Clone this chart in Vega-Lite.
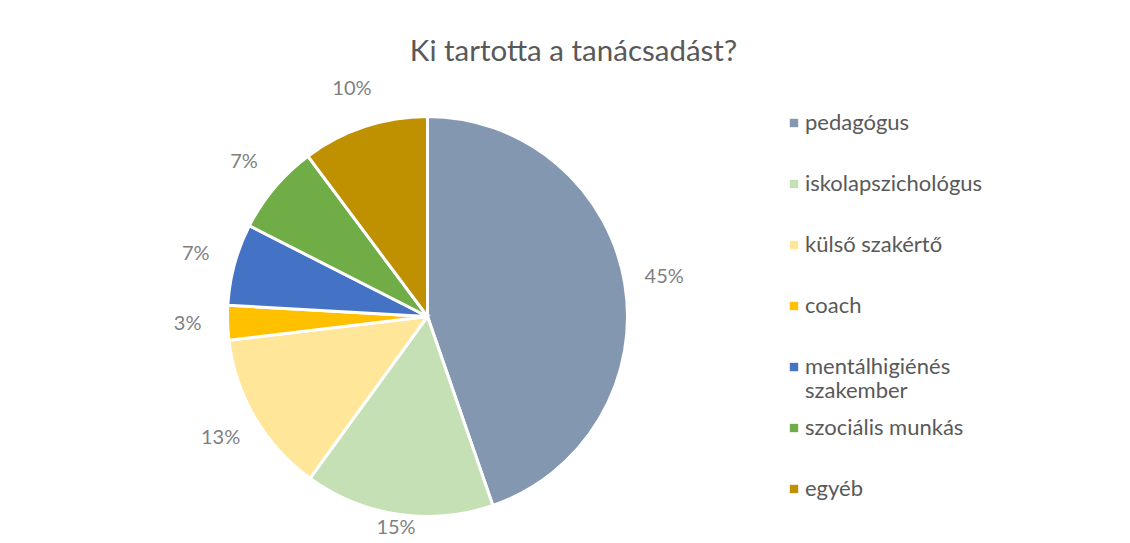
{
  "$schema": "https://vega.github.io/schema/vega-lite/v6.json",
  "autosize": {"type": "none"},
  "padding": {"left": 3, "top": 12, "right": 278, "bottom": 0},
  "width": 849,
  "height": 609,
  "background": "white",
  "title": {
    "text": "Ki tartotta a tanácsadást?",
    "anchor": "middle",
    "frame": "group",
    "offset": -55,
    "dx": 146,
    "fontSize": 29.5,
    "font": "Lato",
    "fontWeight": "normal",
    "color": "#595959"
  },
  "data": {
    "values": [
      {"idx": 1, "category": "pedagógus", "share": 0.447},
      {"idx": 2, "category": "iskolapszichológus", "share": 0.153},
      {"idx": 3, "category": "külső szakértő", "share": 0.131},
      {"idx": 4, "category": "coach", "share": 0.028},
      {"idx": 5, "category": "mentálhigiénés szakember", "share": 0.066},
      {"idx": 6, "category": "szociális munkás", "share": 0.073},
      {"idx": 7, "category": "egyéb", "share": 0.102}
    ]
  },
  "encoding": {
    "theta": {"field": "share", "type": "quantitative", "stack": true},
    "order": {"field": "idx", "type": "quantitative"}
  },
  "layer": [
    {
      "mark": {"type": "arc", "outerRadius": 200, "stroke": "white", "strokeWidth": 3},
      "encoding": {
        "color": {
          "field": "category",
          "type": "nominal",
          "sort": null,
          "scale": {
            "domain": ["pedagógus", "iskolapszichológus", "külső szakértő", "coach", "mentálhigiénés szakember", "szociális munkás", "egyéb"],
            "range": ["#8497B0", "#C5E0B4", "#FFE699", "#FFC000", "#4472C4", "#70AD47", "#BF9000"]
          },
          "legend": {
            "orient": "none",
            "legendX": 780,
            "legendY": 100,
            "title": null,
            "symbolType": "square",
            "symbolSize": 70,
            "symbolStrokeWidth": 0,
            "labelFont": "Lato",
            "labelFontSize": 22,
            "labelColor": "#595959",
            "labelOffset": 0,
            "labelLimit": 300,
            "gridAlign": "all",
            "rowPadding": 15,
            "labelExpr": "datum.label === 'mentálhigiénés szakember' ? ['mentálhigiénés', 'szakember'] : datum.label",
            "encode": {"labels": {"update": {"lineHeight": {"value": 26}}}}
          }
        }
      }
    },
    {
      "mark": {"type": "text", "font": "Lato", "fontSize": 20},
      "encoding": {
        "text": {"field": "share", "type": "quantitative", "format": ".0%"},
        "radius": {"value": {"expr": "datum.category === 'iskolapszichológus' ? 214 : 240"}},
        "color": {"value": "#7f7f7f"}
      }
    }
  ],
  "config": {"view": {"stroke": null}}
}
